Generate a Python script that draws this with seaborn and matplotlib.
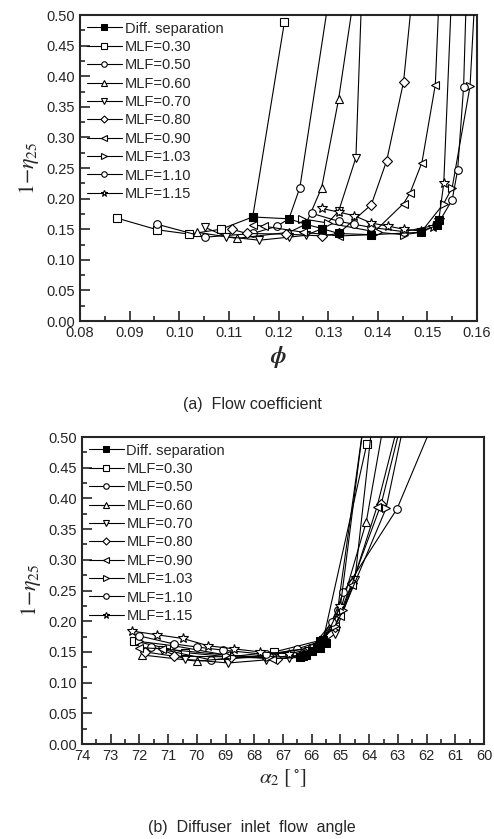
import matplotlib
matplotlib.use('Agg')
import matplotlib.pyplot as plt
import seaborn as sns
from matplotlib.ticker import MultipleLocator, FormatStrFormatter

# Diff. separation points
sep_phi = [0.1148, 0.1221, 0.1255, 0.1288, 0.1321, 0.1387, 0.1487, 0.1520, 0.1523]
sep_alpha = [65.6, 65.7, 65.8, 66.0, 66.3, 66.4, 66.2, 65.7, 65.5]
sep_loss = [0.170, 0.167, 0.158, 0.151, 0.143, 0.141, 0.145, 0.157, 0.165]

# M_LF = 0.30
phi_030 = [0.0875, 0.0956, 0.1020, 0.1084, 0.1148, 0.1212]
alpha_030 = [72.2, 70.4, 68.9, 67.3, 65.6, 64.08]
loss_030 = [0.168, 0.149, 0.142, 0.150, 0.170, 0.489]

# M_LF = 0.50
phi_050 = [0.0956, 0.1052, 0.1148, 0.1197, 0.1221, 0.1243, 0.1300]
alpha_050 = [71.6, 69.5, 67.5, 66.5, 65.7, 65.1, 64.2]
loss_050 = [0.158, 0.137, 0.143, 0.155, 0.167, 0.218, 0.52]

# M_LF = 0.60
phi_060 = [0.1035, 0.1116, 0.1221, 0.1255, 0.1287, 0.1321, 0.1350]
alpha_060 = [71.9, 70.0, 67.6, 65.8, 65.0, 64.1, 63.5]
loss_060 = [0.145, 0.135, 0.145, 0.158, 0.218, 0.362, 0.52]

# M_LF = 0.70
phi_070 = [0.1052, 0.1094, 0.1161, 0.1221, 0.1255, 0.1288, 0.1321, 0.1356, 0.1367]
alpha_070 = [71.2, 70.4, 68.9, 67.6, 66.8, 66.0, 65.2, 64.5, 63.9]
loss_070 = [0.153, 0.138, 0.132, 0.137, 0.140, 0.151, 0.179, 0.267, 0.52]

# M_LF = 0.80
phi_080 = [0.1106, 0.1136, 0.1215, 0.1287, 0.1321, 0.1387, 0.1418, 0.1452, 0.1468]
alpha_080 = [71.8, 70.8, 68.8, 67.2, 66.3, 65.2, 64.6, 63.58, 62.9]
loss_080 = [0.150, 0.143, 0.142, 0.139, 0.143, 0.190, 0.262, 0.391, 0.52]

# M_LF = 0.90
phi_090 = [0.1148, 0.1170, 0.1250, 0.1321, 0.1387, 0.1452, 0.1465, 0.1489, 0.1516, 0.1523]
alpha_090 = [72.0, 71.2, 69.0, 67.4, 66.4, 65.2, 65.0, 64.6, 63.73, 63.0]
loss_090 = [0.157, 0.155, 0.145, 0.139, 0.141, 0.192, 0.209, 0.259, 0.386, 0.52]

# M_LF = 1.03
phi_103 = [0.1248, 0.1300, 0.1400, 0.1452, 0.1487, 0.1533, 0.1550, 0.1586, 0.1595]
alpha_103 = [72.0, 70.8, 69.0, 67.5, 66.2, 65.2, 64.9, 63.41, 62.8]
loss_103 = [0.167, 0.160, 0.145, 0.141, 0.145, 0.192, 0.218, 0.384, 0.52]

# M_LF = 1.10
phi_110 = [0.1267, 0.1321, 0.1353, 0.1387, 0.1452, 0.1520, 0.1550, 0.1561, 0.1573, 0.1578]
alpha_110 = [72.0, 70.8, 70.0, 69.1, 67.6, 66.0, 65.3, 64.9, 63.03, 61.8]
loss_110 = [0.176, 0.163, 0.158, 0.153, 0.146, 0.157, 0.198, 0.247, 0.383, 0.52]

# M_LF = 1.15
phi_115 = [0.1287, 0.1321, 0.1353, 0.1387, 0.1421, 0.1452, 0.1487, 0.1512, 0.1523, 0.1533, 0.1548]
alpha_115 = [72.25, 71.4, 70.5, 69.6, 68.7, 67.8, 66.8, 66.1, 65.6, 65.0, 64.2]
loss_115 = [0.184, 0.178, 0.172, 0.160, 0.155, 0.150, 0.147, 0.154, 0.165, 0.225, 0.52]

series = [
    ('MLF=0.30', 's', phi_030, alpha_030, loss_030),
    ('MLF=0.50', 'o', phi_050, alpha_050, loss_050),
    ('MLF=0.60', '^', phi_060, alpha_060, loss_060),
    ('MLF=0.70', 'v', phi_070, alpha_070, loss_070),
    ('MLF=0.80', 'D', phi_080, alpha_080, loss_080),
    ('MLF=0.90', '<', phi_090, alpha_090, loss_090),
    ('MLF=1.03', '>', phi_103, alpha_103, loss_103),
    ('MLF=1.10', 'o', phi_110, alpha_110, loss_110),
    ('MLF=1.15', '*', phi_115, alpha_115, loss_115),
]

sns.set_style('ticks')
plt.rcParams['font.family'] = ['Liberation Sans', 'DejaVu Sans']
plt.rcParams['mathtext.fontset'] = 'stix'

fig = plt.figure(figsize=(4.94, 8.39), dpi=100)
ax1 = fig.add_axes([0.162, 0.6174, 0.8036, 0.3647])
ax2 = fig.add_axes([0.166, 0.1132, 0.8138, 0.3659])


def draw_panel(ax, use_alpha):
    for label, mk, phi, alpha, loss in series:
        x = alpha if use_alpha else phi
        size = 7 if mk == '*' else (5 if mk == 'D' else 5.5)
        sns.lineplot(x=x, y=loss, ax=ax, sort=False, estimator=None, color='black',
                     linewidth=0.8, marker=mk, markersize=size, markerfacecolor='white',
                     markeredgecolor='black', markeredgewidth=0.8, label=label, zorder=3)
    xs = sep_alpha if use_alpha else sep_phi
    sns.lineplot(x=xs, y=sep_loss, ax=ax, sort=False, estimator=None, color='black',
                 linewidth=0.8, marker='s', markersize=5.5, markerfacecolor='black',
                 markeredgecolor='black', label='Diff. separation', zorder=5)

    ax.set_ylim(0, 0.5)
    ax.yaxis.set_major_locator(MultipleLocator(0.05))
    ax.yaxis.set_minor_locator(MultipleLocator(0.025))
    ax.yaxis.set_major_formatter(FormatStrFormatter('%.2f'))
    ax.tick_params(which='both', direction='in', top=False, right=False, labelsize=10.5)
    ax.tick_params(which='major', length=7, width=1.2)
    ax.tick_params(which='minor', length=3.5, width=1.2)
    for sp in ax.spines.values():
        sp.set_linewidth(1.5)
    ax.set_ylabel(r'$1\mathrm{-}\eta_{25}$', fontsize=16, labelpad=4)

    # legend: separation entry first, as in the original figure
    handles, labels = ax.get_legend_handles_labels()
    handles = handles[-1:] + handles[:-1]
    labels = labels[-1:] + labels[:-1]
    ax.legend(handles, labels, loc='upper left', frameon=False, fontsize=10.5,
              handlelength=2.4, handletextpad=0.2, labelspacing=0.3,
              borderaxespad=0.2, borderpad=0.25, markerscale=0.72)


draw_panel(ax1, False)
ax1.set_xlim(0.08, 0.16)
ax1.xaxis.set_major_locator(MultipleLocator(0.01))
ax1.xaxis.set_minor_locator(MultipleLocator(0.005))
ax1.xaxis.set_major_formatter(FormatStrFormatter('%.2f'))
ax1.set_xlabel(r'$\boldsymbol{\phi}$', fontsize=17, labelpad=3)

draw_panel(ax2, True)
ax2.set_xlim(74, 60)
ax2.xaxis.set_major_locator(MultipleLocator(1))
ax2.xaxis.set_minor_locator(MultipleLocator(0.5))
ax2.xaxis.set_major_formatter(FormatStrFormatter('%d'))
ax2.set_xlabel(r'$\alpha_2\ [\,^{\circ}]$', fontsize=15, labelpad=3)

fig.text(0.51, 0.518, '(a)  Flow coefficient', ha='center', va='center', fontsize=11.5)
fig.text(0.51, 0.0143, '(b)  Diffuser  inlet  flow  angle', ha='center', va='center', fontsize=11.5)

fig.savefig('out.png', dpi=100)
